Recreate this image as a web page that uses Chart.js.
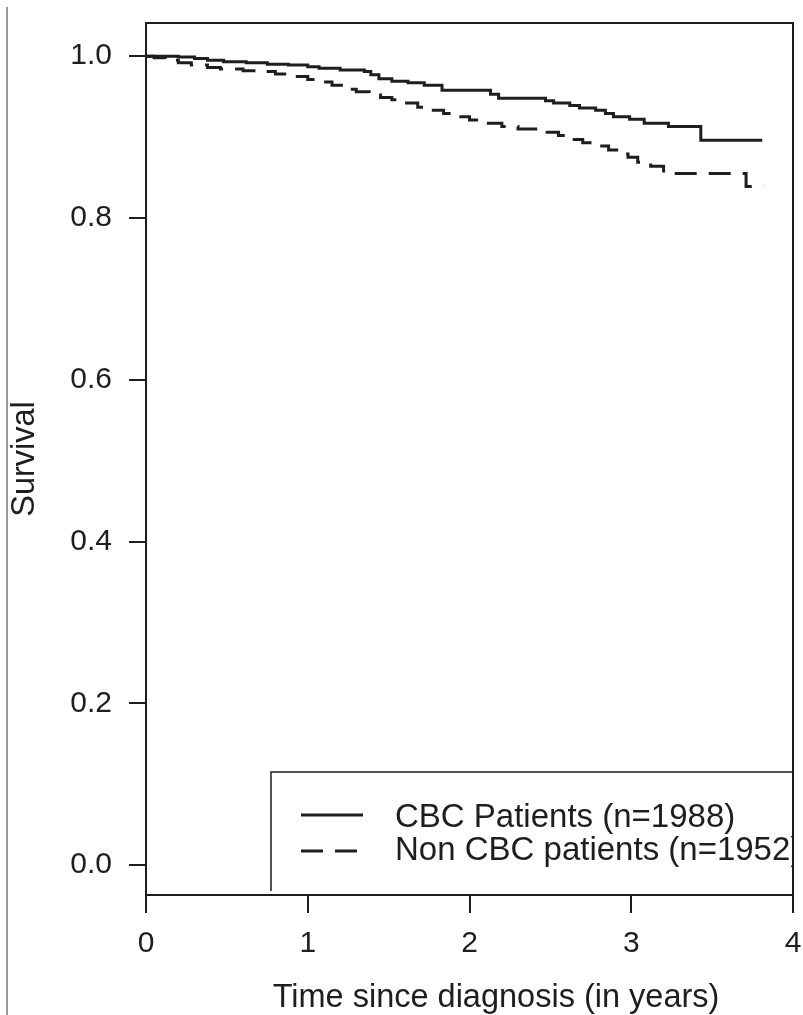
<!DOCTYPE html>
<html>
<head>
<meta charset="utf-8">
<script src="https://cdn.jsdelivr.net/npm/chart.js@4/dist/chart.umd.min.js"></script>
<style>
  html, body { margin: 0; padding: 0; background: #fff; }
  #wrap { position: relative; width: 803px; height: 1015px; }
  #edge { position: absolute; left: 6px; top: 7px; width: 2px; height: 1008px; background: #9a9a9a; }
  canvas { position: absolute; left: 0; top: 0; }
</style>
</head>
<body>
<div id="wrap">
  <canvas id="c" width="803" height="1015"></canvas>
  <div id="edge"></div>
</div>
<script>
// ---- Data ----
const seriesLabels = ['CBC Patients (n=1988)', 'Non CBC patients (n=1952)'];

const cbcTime = [0, 0.20, 0.30, 0.38, 0.48, 0.62, 0.75, 0.88, 1.00, 1.07, 1.20, 1.35, 1.39, 1.44, 1.52, 1.62, 1.72, 1.83, 2.13, 2.18, 2.47, 2.52, 2.62, 2.68, 2.78, 2.84, 2.89, 2.99, 3.08, 3.23, 3.43, 3.81];
const cbcSurv = [1.000, 0.999, 0.997, 0.995, 0.993, 0.992, 0.990, 0.989, 0.987, 0.985, 0.983, 0.981, 0.977, 0.972, 0.969, 0.967, 0.964, 0.958, 0.953, 0.948, 0.945, 0.942, 0.939, 0.936, 0.933, 0.929, 0.925, 0.922, 0.917, 0.913, 0.896, 0.896];

const ncTime = [0, 0.05, 0.12, 0.20, 0.28, 0.38, 0.46, 0.60, 0.72, 0.80, 0.90, 1.00, 1.08, 1.15, 1.22, 1.30, 1.38, 1.45, 1.52, 1.60, 1.68, 1.76, 1.84, 1.92, 2.00, 2.08, 2.20, 2.30, 2.48, 2.55, 2.62, 2.70, 2.78, 2.86, 2.92, 2.98, 3.04, 3.12, 3.20, 3.25, 3.71, 3.82];
const ncSurv = [1.000, 0.998, 0.995, 0.992, 0.989, 0.986, 0.984, 0.982, 0.981, 0.978, 0.975, 0.971, 0.968, 0.964, 0.959, 0.956, 0.952, 0.949, 0.946, 0.942, 0.937, 0.933, 0.929, 0.925, 0.921, 0.917, 0.913, 0.910, 0.906, 0.902, 0.897, 0.893, 0.889, 0.884, 0.879, 0.875, 0.869, 0.864, 0.858, 0.855, 0.839, 0.839];

const xTicks = [0, 1, 2, 3, 4];
const yTicks = [0.0, 0.2, 0.4, 0.6, 0.8, 1.0];
const xTitle = 'Time since diagnosis (in years)';
const yTitle = 'Survival';

// ---- Chart ----
const FONT = '"Liberation Sans", Arial, Helvetica, sans-serif';
const INK = '#1e1e1e';
const TICK_FS = 30;
const TEXT_FS = 32.5;
const LEGEND_FS = 33;

function toXY(xs, ys) { return xs.map((x, i) => ({ x: x, y: ys[i] })); }

const boxPlugin = {
  id: 'boxAndLegend',
  afterDraw(chart) {
    const { ctx, chartArea: a } = chart;
    ctx.save();
    // plot frame
    ctx.strokeStyle = INK;
    ctx.lineWidth = 2;
    ctx.strokeRect(a.left, a.top, a.right - a.left, a.bottom - a.top);

    // x axis title (placed as in the reference)
    ctx.fillStyle = INK;
    ctx.font = TEXT_FS + 'px ' + FONT;
    ctx.textAlign = 'center';
    ctx.textBaseline = 'alphabetic';
    ctx.fillText(chart.options.scales.x.title.text, 496, 1007);

    // legend box (clipped by the plot frame on the right/bottom)
    const lx = 271, ly = 772;
    ctx.lineWidth = 1.5;
    ctx.beginPath();
    ctx.moveTo(lx, a.bottom - 4);
    ctx.lineTo(lx, ly);
    ctx.lineTo(a.right, ly);
    ctx.stroke();

    ctx.beginPath();
    ctx.rect(lx, ly, a.right - lx, a.bottom - ly);
    ctx.clip();
    const lineRows = [815, 851];
    const textBase = [827, 860];
    chart.data.datasets.forEach((ds, i) => {
      ctx.strokeStyle = INK;
      ctx.lineWidth = 3;
      ctx.setLineDash(ds.borderDash || []);
      ctx.beginPath();
      ctx.moveTo(301, lineRows[i]);
      ctx.lineTo(363, lineRows[i]);
      ctx.stroke();
      ctx.setLineDash([]);
      ctx.fillStyle = INK;
      ctx.font = LEGEND_FS + 'px ' + FONT;
      ctx.textBaseline = 'alphabetic';
      ctx.textAlign = 'left';
      ctx.fillText(ds.label, 395, textBase[i]);
    });
    ctx.restore();
  }
};

function noPad(s) { s.paddingTop = 0; s.paddingBottom = 0; s.paddingLeft = 0; s.paddingRight = 0; }

new Chart(document.getElementById('c'), {
  type: 'line',
  data: {
    datasets: [
      {
        label: seriesLabels[0],
        data: toXY(cbcTime, cbcSurv),
        borderColor: INK,
        borderWidth: 3,
        stepped: 'before',
        pointRadius: 0,
        fill: false
      },
      {
        label: seriesLabels[1],
        data: toXY(ncTime, ncSurv),
        borderColor: INK,
        borderWidth: 3,
        borderDash: [22, 12],
        stepped: 'before',
        pointRadius: 0,
        fill: false
      }
    ]
  },
  options: {
    responsive: false,
    animation: false,
    devicePixelRatio: 1,
    layout: { padding: { top: 23, right: 10, left: 0, bottom: 0 } },
    plugins: { legend: { display: false }, tooltip: { enabled: false } },
    scales: {
      x: {
        type: 'linear',
        min: 0, max: 4,
        afterBuildTicks: s => { s.ticks = xTicks.map(v => ({ value: v })); },
        afterFit: s => { s.height = 120; noPad(s); },
        grid: { drawOnChartArea: false, drawTicks: true, tickLength: 18, color: INK, lineWidth: 2 },
        border: { display: true, color: INK, width: 2 },
        ticks: { color: INK, font: { family: FONT, size: TICK_FS }, padding: 13, maxRotation: 0,
                 callback: v => String(v) },
        title: { display: false, text: xTitle }
      },
      y: {
        type: 'linear',
        min: -0.037, max: 1.041,
        afterBuildTicks: s => { s.ticks = yTicks.map(v => ({ value: v })); },
        afterFit: s => { s.width = 146; noPad(s); },
        grid: { drawOnChartArea: false, drawTicks: true, tickLength: 17, color: INK, lineWidth: 2 },
        border: { display: true, color: INK, width: 2 },
        ticks: { color: INK, font: { family: FONT, size: TICK_FS }, padding: 17,
                 callback: v => v.toFixed(1) },
        title: { display: true, text: yTitle, color: INK, font: { family: FONT, size: TEXT_FS },
                 padding: { top: 5.5, bottom: 0 } }
      }
    }
  },
  plugins: [boxPlugin]
});
</script>
</body>
</html>
